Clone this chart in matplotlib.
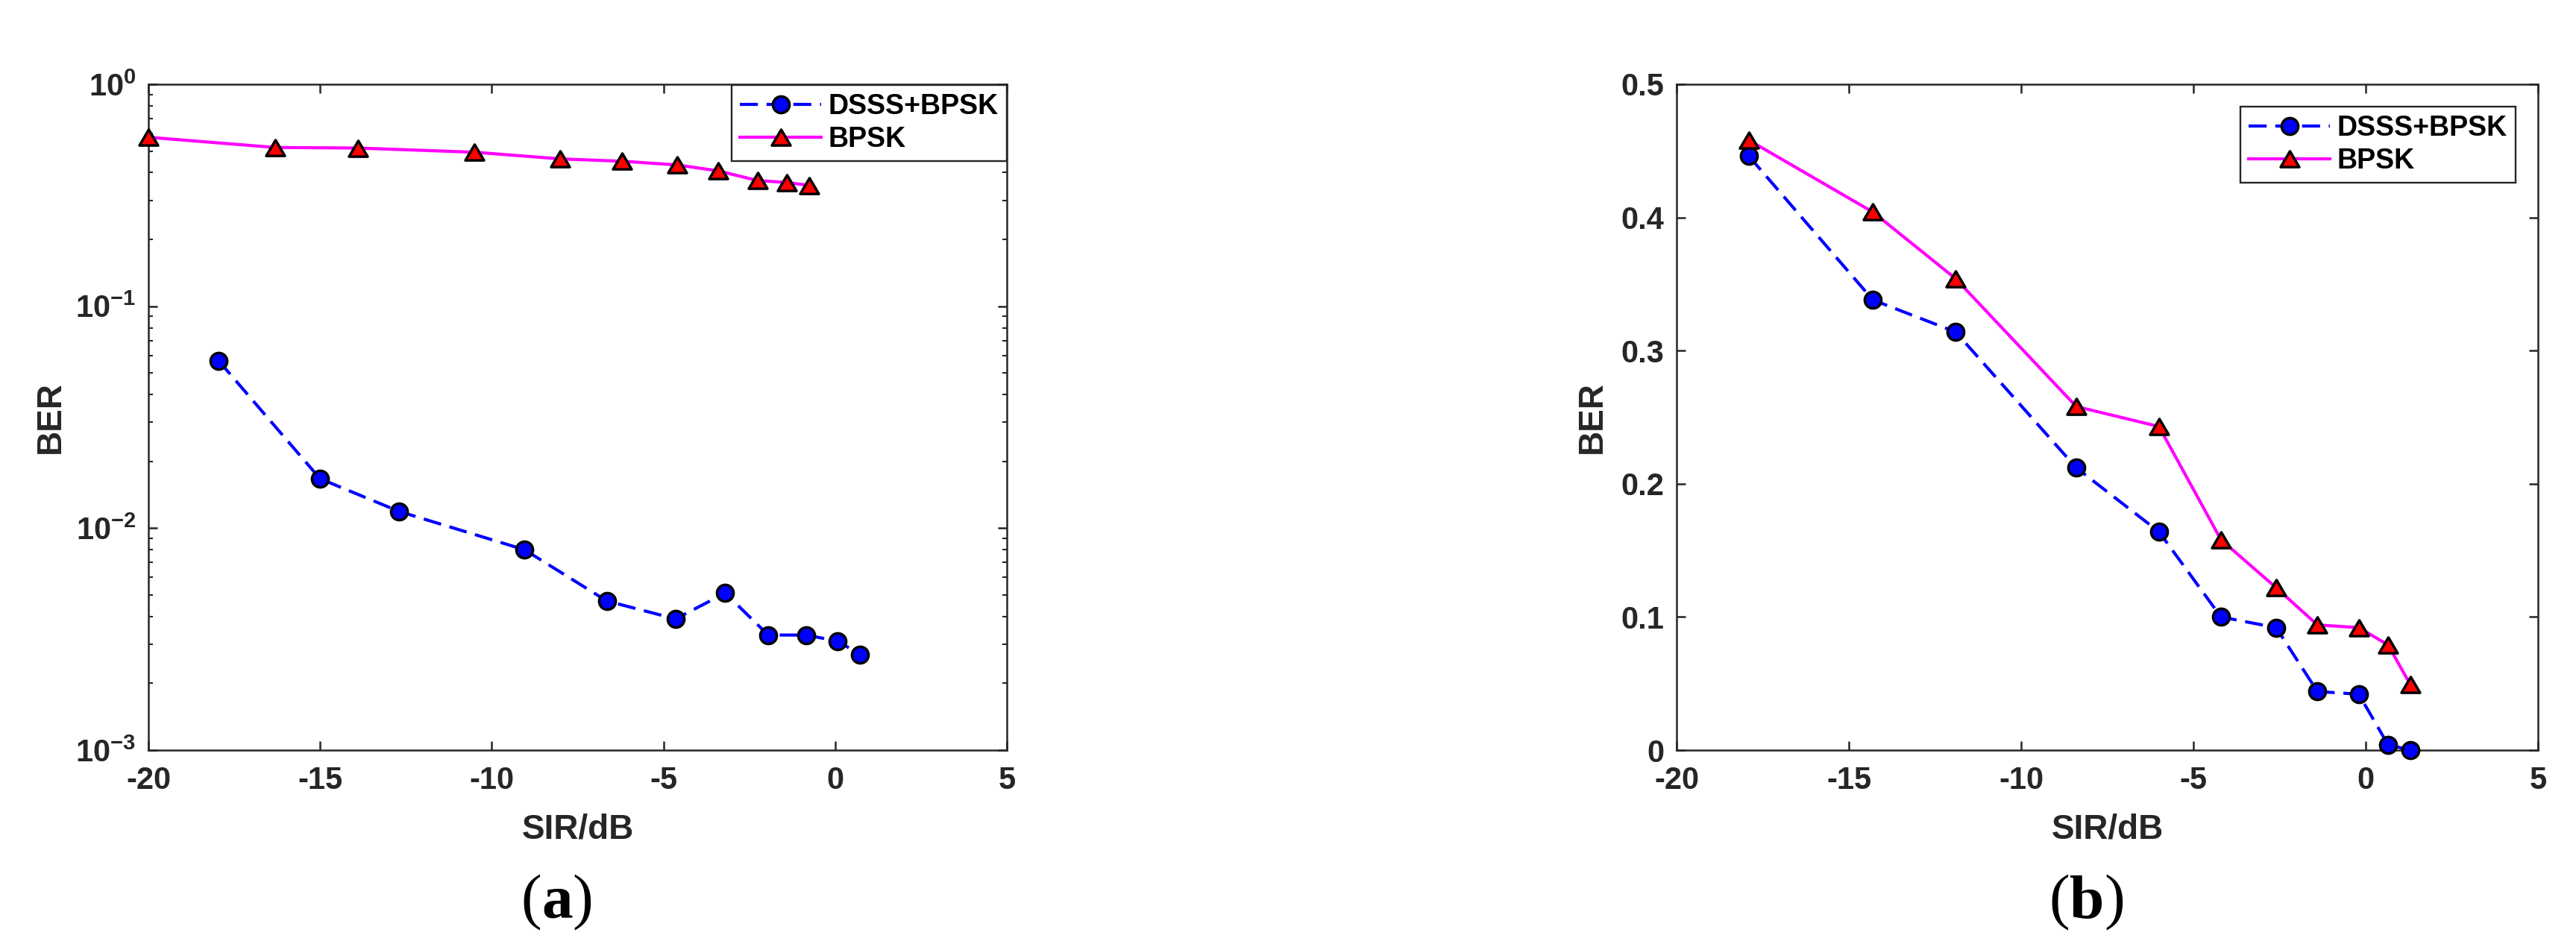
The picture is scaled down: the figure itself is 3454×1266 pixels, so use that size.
import matplotlib.pyplot as plt
from matplotlib.markers import MarkerStyle
from matplotlib.path import Path
from matplotlib.ticker import FixedLocator, NullFormatter

plt.rcParams['font.family'] = ['Liberation Sans', 'DejaVu Sans']
plt.rcParams['font.weight'] = 'bold'
plt.rcParams['axes.labelweight'] = 'bold'
plt.rcParams['axes.unicode_minus'] = False
plt.rcParams['mathtext.fontset'] = 'custom'
plt.rcParams['mathtext.bf'] = 'Liberation Sans:bold'
plt.rcParams['mathtext.rm'] = 'Liberation Sans:bold'

# (a) log scale
sir_a_dsss = [-17.96, -15.0, -12.7, -9.05, -6.65, -4.65, -3.2, -1.95, -0.85, 0.07, 0.72]
ber_a_dsss = [0.0569, 0.0167, 0.0119, 0.0080, 0.0047, 0.0039, 0.0051, 0.0033, 0.0033, 0.0031, 0.0027]
sir_a_bpsk = [-20.0, -16.3, -13.9, -10.5, -8.0, -6.2, -4.6, -3.4, -2.25, -1.4, -0.75]
ber_a_bpsk = [0.577, 0.519, 0.516, 0.494, 0.461, 0.450, 0.433, 0.407, 0.368, 0.361, 0.350]

# (b) linear scale
sir_b = [-17.9, -14.3, -11.9, -8.4, -6.0, -4.2, -2.6, -1.4, -0.2, 0.65, 1.3]
ber_b_dsss = [0.446, 0.338, 0.314, 0.212, 0.164, 0.100, 0.092, 0.044, 0.042, 0.004, 0.0]
ber_b_bpsk = [0.458, 0.404, 0.354, 0.258, 0.243, 0.158, 0.122, 0.094, 0.092, 0.079, 0.049]

xticks = [-20, -15, -10, -5, 0, 5]
yticks_a = [1e-3, 1e-2, 1e-1, 1e0]
ylabels_a = [r'$\mathbf{10^{-3}}$', r'$\mathbf{10^{-2}}$', r'$\mathbf{10^{-1}}$', r'$\mathbf{10^{0}}$']
yticks_b = [0, 0.1, 0.2, 0.3, 0.4, 0.5]
ylabels_b = ['0', '0.1', '0.2', '0.3', '0.4', '0.5']

dark = '#262626'
tri = MarkerStyle(Path([(0, 0.85), (-1, -0.85), (1, -0.85), (0, 0.85)], closed=True), joinstyle='miter')
circ = MarkerStyle('o')

fig = plt.figure(figsize=(34.55, 12.66), dpi=100)
ax1 = fig.add_axes([199 / 3455, 1 - 1006 / 1266, 1151 / 3455, 893 / 1266])
ax2 = fig.add_axes([2248 / 3455, 1 - 1006 / 1266, 1155 / 3455, 893 / 1266])

def draw(ax, xd, yd, xb, yb):
    ax.plot(xd, yd, color='#0000FF', lw=3.0, dashes=(5.8, 2.8), marker=circ, ms=16,
            mfc='#0000FF', mec='k', mew=2.5, clip_on=False, label='DSSS+BPSK', zorder=3)
    ax.plot(xb, yb, color='#FF00FF', lw=3.0, marker=tri, ms=18,
            mfc='#FF0000', mec='k', mew=2.5, clip_on=False, label='BPSK', zorder=3)

draw(ax1, sir_a_dsss, ber_a_dsss, sir_a_bpsk, ber_a_bpsk)
draw(ax2, sir_b, ber_b_dsss, sir_b, ber_b_bpsk)

ax1.set_yscale('log')
ax1.set_ylim(1e-3, 1)
ax1.set_yticks(yticks_a, ylabels_a)
minors = [m * 10.0 ** e for e in (-3, -2, -1) for m in range(2, 10)]
ax1.yaxis.set_minor_locator(FixedLocator(minors))
ax1.yaxis.set_minor_formatter(NullFormatter())

ax2.set_ylim(0, 0.5)
ax2.set_yticks(yticks_b, ylabels_b)

legend_anchor = {ax1: (1350 / 3455, 1 - 114 / 1266), ax2: (3373 / 3455, 1 - 143 / 1266)}
ylab_x = {ax1: -0.1138, ax2: -0.0978}

for ax in (ax1, ax2):
    ax.set_xlim(-20, 5)
    ax.set_xticks(xticks, [str(t) for t in xticks])
    for s in ax.spines.values():
        s.set_linewidth(1.8)
        s.set_color(dark)
    ax.tick_params(which='major', direction='in', length=8.6, width=1.8, color=dark,
                   top=True, right=True, labelsize=30, labelcolor=dark)
    ax.tick_params(axis='x', which='major', pad=15)
    ax.tick_params(axis='y', which='major', pad=12)
    ax.tick_params(which='minor', direction='in', length=4.3, width=1.5, color=dark,
                   left=True, right=True)
    ax.set_xlabel('SIR/dB', fontsize=33, color=dark, va='center')
    ax.xaxis.set_label_coords(0.5, -0.1198)
    ax.set_ylabel('BER', fontsize=33, color=dark, va='center')
    ax.yaxis.set_label_coords(ylab_x[ax], 0.5)
    leg = ax.legend(loc='upper right', bbox_to_anchor=legend_anchor[ax],
                    bbox_transform=fig.transFigure, fontsize=27, fancybox=False,
                    framealpha=1, edgecolor=dark, borderpad=0.3, handlelength=2.9,
                    handletextpad=0.25, labelspacing=0.2, borderaxespad=0)
    leg.get_frame().set_linewidth(1.7)

# sub-figure labels: regular parens, bold letter
renderer = fig.canvas.get_renderer()
for cx, letter in ((747, 'a'), (2798, 'b')):
    x = cx / 3455
    y = 1 - 1202 / 1266
    t = fig.text(x, y, letter, fontsize=60, family='Liberation Serif', weight='bold',
                 ha='center', va='center_baseline')
    w = t.get_window_extent(renderer).width / 3455
    fig.text(x - w / 2, y, '(', fontsize=60, family='Liberation Serif', weight='normal',
             ha='right', va='center_baseline')
    fig.text(x + w / 2, y, ')', fontsize=60, family='Liberation Serif', weight='normal',
             ha='left', va='center_baseline')

fig.savefig('out.png', dpi=100)
plt.close(fig)
